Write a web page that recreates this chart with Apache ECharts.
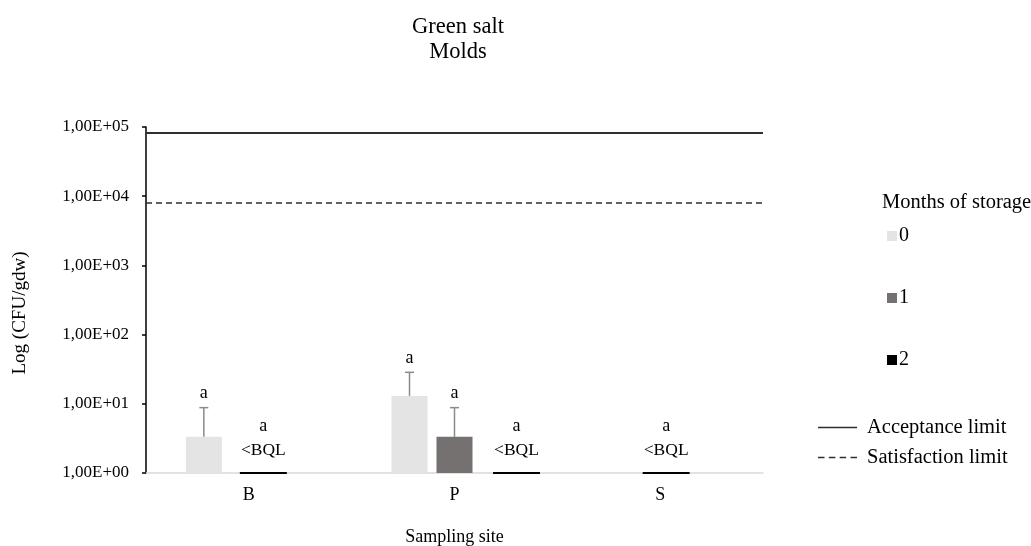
<!DOCTYPE html>
<html>
<head>
<meta charset="utf-8">
<script src="https://cdn.jsdelivr.net/npm/echarts@6/dist/echarts.min.js"></script>
<style>
  html, body { margin: 0; padding: 0; background: #fff; }
  #chart { width: 1031px; height: 546px; }
</style>
</head>
<body>
<div id="chart"></div>
<script>
// Sampling sites and storage months
const sites = ['B', 'P', 'S'];
const months = ['0', '1', '2'];

// Mean mold counts (CFU/gdw) per storage month; null = below quantification limit
const month0 = [3.33, 13.0, null];
const month1 = [null, 3.33, null];
const month2 = [null, null, null];

// Upper end of the error bars (CFU/gdw)
const month0Upper = [8.8, 28.5, null];
const month1Upper = [null, 8.8, null];
const month2Upper = [null, null, null];

// Significance letters written above the bars
const month0Letters = ['a', 'a', null];
const month1Letters = [null, 'a', null];
const month2Letters = [null, null, null];

// Below-quantification-limit markers: site, months concerned, letter
const bqlSites = ['B', 'P', 'S'];
const bqlMonths = [[1, 2], [2], [0, 1, 2]];
const bqlLetters = ['a', 'a', 'a'];

// Regulatory limits (CFU/gdw)
const acceptanceLimit = 82000;
const satisfactionLimit = 8000;

// Y axis ticks and their labels
const yTicks = [1, 10, 100, 1000, 10000, 100000];
const yTickLabels = ['1,00E+00', '1,00E+01', '1,00E+02', '1,00E+03', '1,00E+04', '1,00E+05'];

// ---- styling ----
const FONT = '"Liberation Serif", "Times New Roman", serif';
const BAR_WIDTH = 36;
const BAR_GAP = 9;
const BAR_STEP = BAR_WIDTH + BAR_GAP;
const monthColors = ['#e4e4e4', '#767171', '#000000'];
const bqlNudge = [-8, 17, 6];

const seriesValues = [month0, month1, month2];
const seriesUpper = [month0Upper, month1Upper, month2Upper];
const seriesLetters = [month0Letters, month1Letters, month2Letters];

const barSeries = months.map((m, i) => ({
  name: m,
  type: 'bar',
  barWidth: BAR_WIDTH,
  barGap: (BAR_GAP / BAR_WIDTH * 100) + '%',
  itemStyle: { color: monthColors[i] },
  data: seriesValues[i]
}));

// Error bars with the letter on top, offset to the bar of each month
function errorRenderer(m) {
  return function (params, api) {
    const site = api.value(0);
    const base = api.coord([site, api.value(1)]);
    const top = api.coord([site, api.value(2)]);
    const x = base[0] + (m - 1) * BAR_STEP;
    const letter = seriesLetters[m][site];
    return {
      type: 'group',
      children: [
        { type: 'line', shape: { x1: x, y1: base[1], x2: x, y2: top[1] },
          style: { stroke: '#8a8a8a', lineWidth: 1.5 } },
        { type: 'line', shape: { x1: x - 4.5, y1: top[1], x2: x + 4.5, y2: top[1] },
          style: { stroke: '#8a8a8a', lineWidth: 1.5 } },
        { type: 'text', style: { text: letter || '', x: x, y: top[1] - 5,
          align: 'center', verticalAlign: 'bottom', font: '18px ' + FONT, fill: '#000' } }
      ]
    };
  };
}

const errorSeries = months.map((m, i) => ({
  type: 'custom',
  renderItem: errorRenderer(i),
  silent: true,
  z: 5,
  data: sites.map((s, k) => [k, seriesValues[i][k], seriesUpper[i][k]])
             .filter(d => d[1] != null && d[2] != null)
}));

// "<BQL" markers drawn on the baseline under the months concerned
const bqlSeries = {
  type: 'custom',
  silent: true,
  z: 6,
  renderItem: function (params, api) {
    const idx = params.dataIndex;
    const site = api.value(0);
    const base = api.coord([site, 1]);
    const x = base[0] + (api.value(1) - 1) * BAR_STEP + bqlNudge[idx];
    const y = base[1];
    return {
      type: 'group',
      children: [
        { type: 'line', shape: { x1: x - 23.5, y1: y, x2: x + 23.5, y2: y },
          style: { stroke: '#000', lineWidth: 2 } },
        { type: 'text', style: { text: '<BQL', x: x, y: y - 23, align: 'center',
          verticalAlign: 'middle', font: '17.5px ' + FONT, fill: '#000' } },
        { type: 'text', style: { text: bqlLetters[idx], x: x, y: y - 47, align: 'center',
          verticalAlign: 'middle', font: '18px ' + FONT, fill: '#000' } }
      ]
    };
  },
  data: bqlSites.map((s, k) => {
    const ms = bqlMonths[k];
    return [sites.indexOf(s), ms.reduce((a, b) => a + b, 0) / ms.length];
  })
};

const limitSeries = [
  { name: 'Acceptance limit', value: acceptanceLimit, type: 'solid', width: 2 },
  { name: 'Satisfaction limit', value: satisfactionLimit, type: [6, 4], width: 1.5 }
].map(l => ({
  name: l.name,
  type: 'line',
  data: [],
  color: '#2e2e2e',
  markLine: {
    silent: true,
    symbol: 'none',
    label: { show: false },
    lineStyle: { color: '#2e2e2e', width: l.width, type: l.type },
    data: [{ yAxis: l.value }]
  }
}));

const chart = echarts.init(document.getElementById('chart'));
chart.setOption({
  animation: false,
  backgroundColor: '#fff',
  title: [
    { text: 'Green salt\nMolds', left: 453, top: 10, textAlign: 'center',
      textStyle: { fontFamily: FONT, fontSize: 22.5, fontWeight: 'normal', color: '#000', lineHeight: 25 } },
    { text: 'Months of storage', left: 877, top: 187,
      textStyle: { fontFamily: FONT, fontSize: 20.5, fontWeight: 'normal', color: '#000' } }
  ],
  graphic: [
    { type: 'text', x: 20, y: 313, rotation: Math.PI / 2, silent: true,
      style: { text: 'Log (CFU/gdw)', align: 'center', verticalAlign: 'middle',
               font: '19px ' + FONT, fill: '#000' } }
  ],
  legend: [
    { data: months, orient: 'vertical', left: 882, top: 221, icon: 'rect',
      itemWidth: 10, itemHeight: 10, itemGap: 42,
      textStyle: { fontFamily: FONT, fontSize: 20, color: '#000', padding: [0, 0, 0, -3] } },
    { data: [
        { name: 'Acceptance limit', icon: 'path://M0,0H39V1.5H0Z' },
        { name: 'Satisfaction limit', icon: 'path://M0,0H6V1.5H0Z M10,0H16V1.5H10Z M20,0H26V1.5H20Z M30,0H36V1.5H30Z' }
      ],
      orient: 'vertical', left: 813, top: 412, itemWidth: 39, itemHeight: 2, itemGap: 9,
      textStyle: { fontFamily: FONT, fontSize: 20.5, color: '#000', padding: [0, 0, 0, 5] } }
  ],
  grid: { left: 146, right: 268, top: 127, bottom: 73, outerBoundsMode: 'none' },
  xAxis: {
    type: 'category',
    data: sites,
    name: 'Sampling site',
    nameLocation: 'middle',
    nameGap: 55,
    nameTextStyle: { fontFamily: FONT, fontSize: 18, color: '#000' },
    axisLine: { lineStyle: { color: '#d9d9d9', width: 1.5 } },
    axisTick: { show: false },
    axisLabel: { fontFamily: FONT, fontSize: 18, color: '#000', margin: 13 }
  },
  yAxis: {
    type: 'log',
    logBase: 10,
    min: yTicks[0],
    max: yTicks[yTicks.length - 1],
    splitLine: { show: false },
    axisLine: { show: true, lineStyle: { color: '#000', width: 1.5 } },
    axisTick: { show: true, length: 4, lineStyle: { color: '#000', width: 1.5 } },
    axisLabel: {
      fontFamily: FONT, fontSize: 17, color: '#000', margin: 17,
      formatter: v => {
        const i = yTicks.findIndex(t => Math.abs(t - v) / t < 1e-6);
        return i >= 0 ? yTickLabels[i] : '';
      }
    }
  },
  series: [...barSeries, ...errorSeries, bqlSeries, ...limitSeries]
});
</script>
</body>
</html>
